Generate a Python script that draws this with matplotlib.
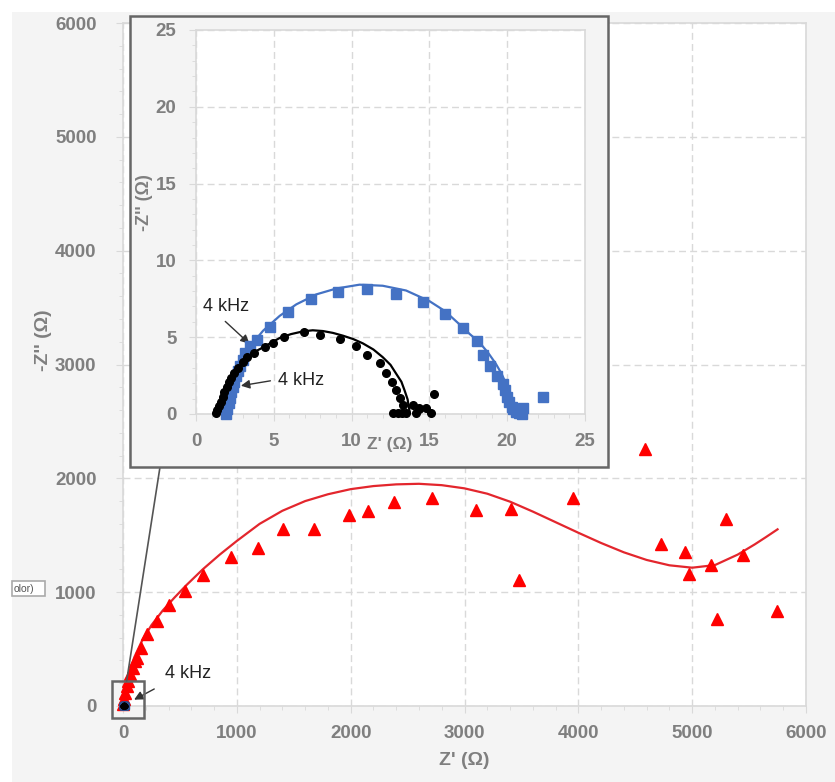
import numpy as np
import matplotlib
matplotlib.use("Agg")
import matplotlib.pyplot as plt
from matplotlib.patches import Rectangle, ConnectionPatch

plt.rcParams['font.family'] = ['Liberation Sans', 'DejaVu Sans']

# ── DATA ──────────────────────────────────────────────────────────────────────
# main plot: red triangles (measured) and red fit line
red_x = [3, 9, 18, 32, 47, 62, 85, 106, 120, 155, 214, 296, 407, 545, 701, 950, 1190, 1404,
         1674, 1988, 2149, 2383, 2715, 3105, 3412, 3483, 3952, 4582, 4723, 4937, 4973, 5163,
         5300, 5218, 5447, 5749]
red_y = [15, 59, 117, 176, 220, 278, 337, 395, 425, 512, 629, 747, 885, 1010, 1148, 1309, 1391, 1552,
         1552, 1676, 1713, 1792, 1824, 1725, 1734, 1110, 1830, 2261, 1420, 1353, 1163, 1239,
         1640, 764, 1327, 835]
red_fit_x = [0, 20, 50, 100, 170, 250, 350, 450, 550, 700, 850, 1000, 1200, 1400, 1600, 1800,
             2000, 2200, 2400, 2600, 2800, 3000, 3200, 3400, 3600, 3800, 4000, 4200, 4400, 4600,
             4800, 5000, 5200, 5400, 5550, 5650, 5750]
red_fit_y = [0, 160, 290, 430, 580, 710, 840, 950, 1055, 1200, 1330, 1450, 1600, 1715, 1800, 1860,
             1905, 1932, 1947, 1952, 1940, 1912, 1865, 1795, 1708, 1615, 1522, 1432, 1350, 1283,
             1236, 1215, 1238, 1330, 1420, 1485, 1552]

# inset: blue squares + fit, black circles + fit
blue_x = [1.95, 2.02, 2.1, 2.18, 2.27, 2.36, 2.46, 2.57, 2.7, 2.85, 3.0, 3.15, 3.45, 3.89, 4.74, 5.92,
          7.42, 9.12, 10.98, 12.86, 14.57, 16.03, 17.14, 18.06, 18.42, 18.91, 19.34, 19.70, 19.87,
          19.96, 20.13, 20.34, 20.56, 20.77, 20.98, 20.4, 20.6, 21.0, 22.31]
blue_y = [0.0, 0.35, 0.7, 1.05, 1.4, 1.75, 2.1, 2.45, 2.8, 3.15, 3.5, 3.95, 4.4, 4.82, 5.68, 6.67,
          7.46, 7.96, 8.11, 7.83, 7.31, 6.50, 5.59, 4.77, 3.81, 3.10, 2.45, 1.98, 1.55,
          1.12, 0.79, 0.47, 0.15, 0.05, 0.0, 0.3, 0.2, 0.4, 1.12]
blue_fit_x = [1.9, 2.18, 2.6, 3.25, 4.31, 5.38, 6.45, 7.74, 9.02, 10.51, 12.0, 13.5, 15.0, 16.0,
              16.92, 17.6, 18.21, 18.8, 19.27, 19.65, 19.92, 20.24, 20.45, 20.52]
blue_fit_y = [0.0, 1.98, 3.1, 4.13, 5.42, 6.39, 7.14, 7.79, 8.17, 8.42, 8.35, 8.04, 7.35, 6.7,
              5.85, 5.2, 4.67, 3.95, 3.27, 2.6, 1.98, 1.12, 0.26, 0.0]

black_x = [1.28, 1.37, 1.5, 1.6, 1.71, 1.82, 1.97, 2.12, 2.24, 2.44, 2.67, 2.99, 3.29, 3.74, 4.42,
           4.96, 5.66, 6.92, 7.95, 9.23, 10.3, 10.98, 11.84, 12.18, 12.61, 12.86, 13.12, 13.33,
           12.65, 12.95, 13.25, 13.5, 13.93, 14.3, 14.36, 14.79, 15.1, 15.28, 14.15]
black_y = [0.04, 0.26, 0.52, 0.79, 1.12, 1.44, 1.76, 2.08, 2.37, 2.67, 3.01, 3.38, 3.70, 3.96, 4.34,
           4.62, 5.03, 5.31, 5.16, 4.88, 4.45, 3.87, 3.31, 2.67, 2.08, 1.55, 1.01, 0.58,
           0.05, 0.05, 0.05, 0.08, 0.58, 0.37, 0.30, 0.37, 0.04, 1.27, 0.04]
black_fit_x = [1.3, 1.43, 1.8, 2.18, 2.6, 3.03, 3.6, 4.31, 5.38, 6.1, 6.88, 7.5, 8.16, 8.8, 9.44,
               10.1, 10.72, 11.4, 12.0, 12.5, 12.86, 13.2, 13.4, 13.6, 13.67, 13.76]
black_fit_y = [0.0, 0.26, 1.1, 1.98, 2.8, 3.48, 3.95, 4.34, 4.95, 5.2, 5.38, 5.45, 5.4, 5.28, 5.1,
               4.88, 4.6, 4.2, 3.7, 3.2, 2.63, 2.1, 1.55, 0.95, 0.47, 0.0]

RED = "#ff0000"; RED_LINE = "#e3262d"; BLUE = "#4472c4"
GRAY_TXT = "#7f7f7f"; SPINE = "#d9d9d9"; FRAME = "#666666"; PANEL = "#f4f4f4"

W, H = 835, 782
fig = plt.figure(figsize=(W/100, H/100), dpi=100, facecolor="white")
fig.patches.append(Rectangle((12/W, 0), 1, 1 - 12/H, transform=fig.transFigure,
                             facecolor=PANEL, edgecolor="none", zorder=-10))

def style(ax, major, minor, pad):
    ax.set_facecolor("white")
    for s in ax.spines.values():
        s.set_color(SPINE); s.set_linewidth(1.2)
    ax.set_xticks(major); ax.set_yticks(major)
    ax.set_xticks(minor, minor=True); ax.set_yticks(minor, minor=True)
    ax.tick_params(which="major", length=5, color=SPINE, labelcolor=GRAY_TXT, labelsize=13.5, pad=pad)
    ax.tick_params(which="minor", length=3, color=SPINE)
    for lab in ax.get_xticklabels() + ax.get_yticklabels():
        lab.set_fontweight("bold")
    ax.grid(True, which="major", color="#d9d9d9", linestyle=(0, (5, 3)), linewidth=1)
    ax.set_axisbelow(True)

# ── MAIN AXES ─────────────────────────────────────────────────────────────────
ax = fig.add_axes([123/W, 1 - 706/H, 683/W, 683/H])
ax.set_xlim(0, 6000); ax.set_ylim(0, 6000)
style(ax, np.arange(0, 6001, 1000), np.arange(0, 6001, 200), 9)
ax.tick_params(axis="y", pad=14)
ax.plot(red_fit_x, red_fit_y, color=RED_LINE, lw=1.6, zorder=3)
ax.plot(red_x, red_y, "^", color=RED, ms=8, mec=RED, zorder=4, clip_on=False)
ax.plot(blue_x, blue_y, "s", color="#2f4f8f", ms=5, zorder=5, clip_on=False)
ax.plot(black_x, black_y, "o", color="black", ms=3, zorder=5, clip_on=False)
ax.set_xlabel("Z' (Ω)", fontsize=14, fontweight="bold", color=GRAY_TXT)
ax.set_ylabel("-Z'' (Ω)", fontsize=14, fontweight="bold", color=GRAY_TXT)
ax.xaxis.set_label_coords(0.5, -0.067)
ax.yaxis.set_label_coords(-0.104, 0.535)

# zoom box around the origin
ax.add_patch(Rectangle((-97, -105), 282, 325, fill=False, edgecolor=FRAME, lw=1.8,
                       clip_on=False, zorder=6))
ax.text(369, 285, "4 kHz", fontsize=13, color="#222222", ha="left", va="center")
ax.annotate("", xy=(76, 44), xytext=(296, 161),
            arrowprops=dict(arrowstyle="-|>", color="#333333", lw=1, mutation_scale=13))

# leftover button from the screenshot
fig.patches.append(Rectangle((12/W, 1 - 596/H), 33/W, 15/H, transform=fig.transFigure,
                             facecolor="white", edgecolor="#aaaaaa", lw=1.2, zorder=1))
fig.text(14/W, 1 - 588.5/H, "olor)", fontsize=7.5, color="#555555", va="center", ha="left")

# ── INSET ─────────────────────────────────────────────────────────────────────
fig.patches.append(Rectangle((130/W, 1 - 467/H), 478/W, 451/H, transform=fig.transFigure,
                             facecolor=PANEL, edgecolor=FRAME, lw=1.8, zorder=2))
con = ConnectionPatch(xyA=(32, 220), coordsA=ax.transData,
                      xyB=(160/W, 1 - 467/H), coordsB=fig.transFigure,
                      color="#555555", lw=1.2, zorder=2)
fig.add_artist(con)

ins = fig.add_axes([196/W, 1 - 414/H, 389/W, 384/H])
ins.set_zorder(3)
ins.set_xlim(0, 25); ins.set_ylim(0, 25)
style(ins, np.arange(0, 26, 5), np.arange(0, 26, 1), 9)
ins.plot(blue_fit_x, blue_fit_y, color=BLUE, lw=1.6, zorder=3)
ins.plot(black_fit_x, black_fit_y, color="black", lw=1.6, zorder=3)
ins.plot(blue_x, blue_y, "s", color=BLUE, ms=6.5, zorder=4, clip_on=False)
ins.plot(black_x, black_y, "o", color="black", ms=5.5, zorder=5, clip_on=False)
ins.set_xlabel("Z' (Ω)", fontsize=12.5, fontweight="bold", color=GRAY_TXT)
ins.set_ylabel("-Z'' (Ω)", fontsize=13, fontweight="bold", color=GRAY_TXT)
ins.xaxis.set_label_coords(0.497, -0.06)
ins.yaxis.set_label_coords(-0.11, 0.55)

ins.text(0.45, 7.0, "4 kHz", fontsize=13, color="#222222", ha="left", va="center")
ins.annotate("", xy=(3.57, 4.45), xytext=(1.75, 6.15),
             arrowprops=dict(arrowstyle="-|>", color="#333333", lw=1, mutation_scale=13))
ins.text(5.3, 2.2, "4 kHz", fontsize=13, color="#222222", ha="left", va="center")
ins.annotate("", xy=(2.71, 1.81), xytext=(4.96, 2.19),
             arrowprops=dict(arrowstyle="-|>", color="#333333", lw=1, mutation_scale=13))

plt.savefig("out.png", dpi=100)
